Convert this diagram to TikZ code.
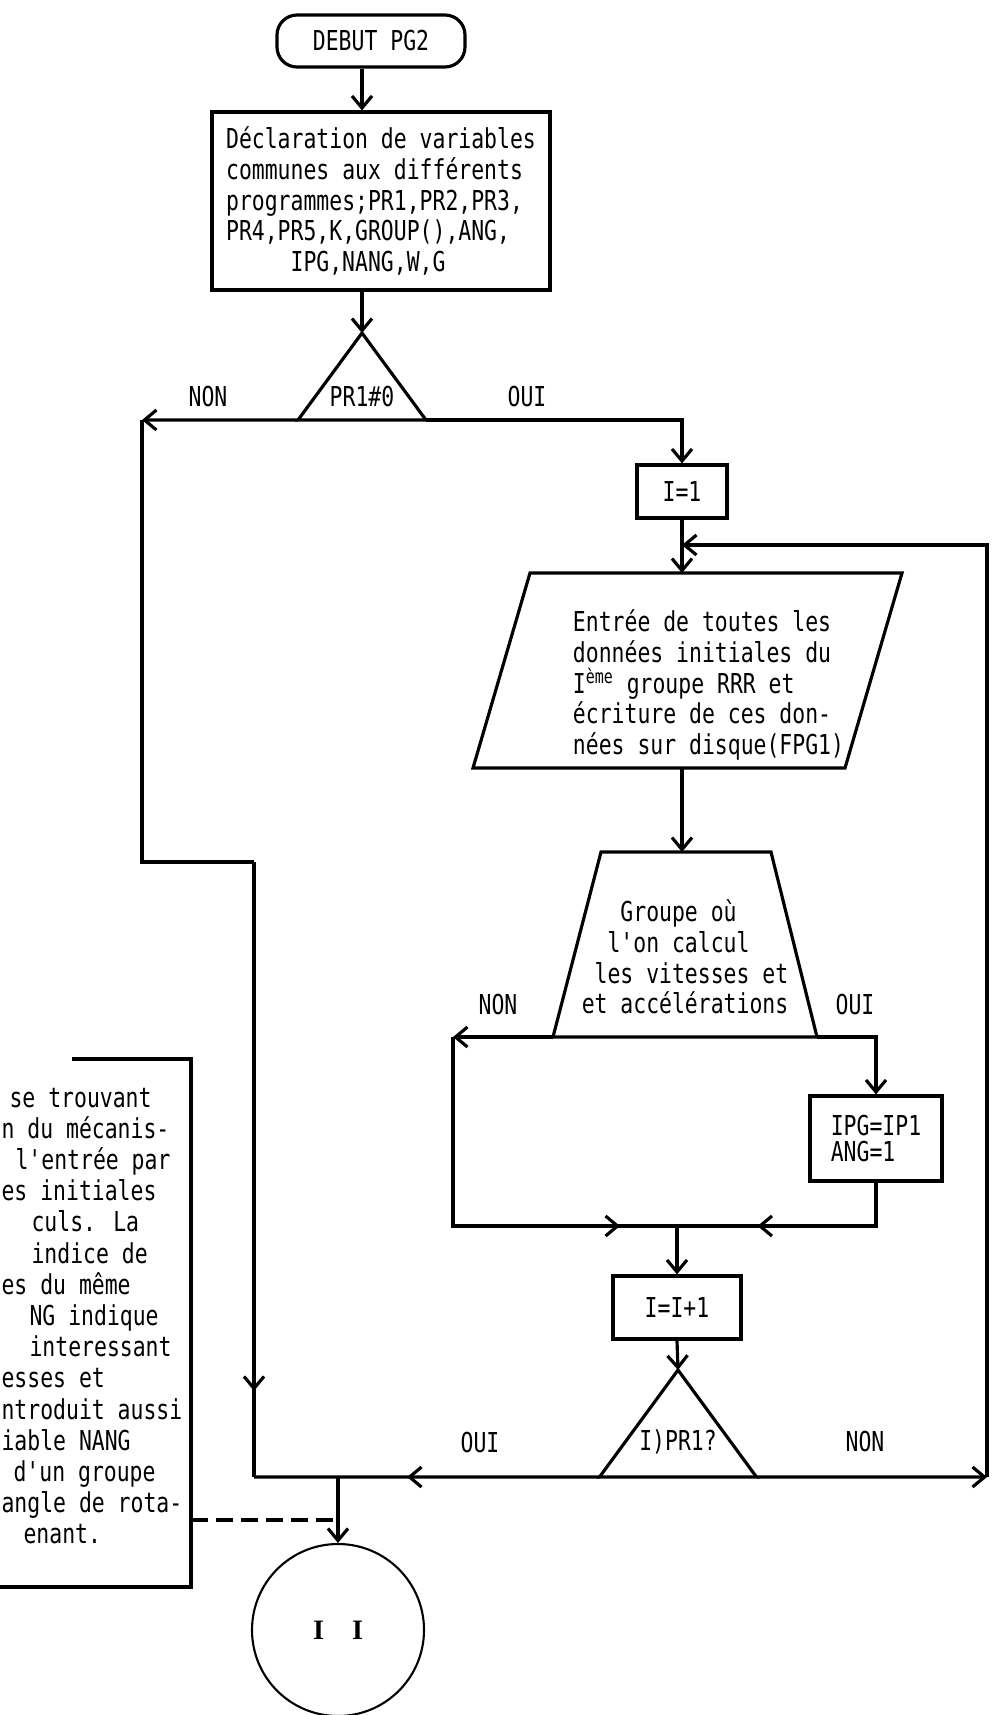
\documentclass[tikz,border=0pt]{standalone}
\usepackage{fontspec}
\usetikzlibrary{arrows.meta, decorations.markings}
\newfontfamily\dotfont[FakeStretch=0.782]{DejaVu Sans Mono}
\newfontfamily\romfont{Liberation Serif}
\newlength{\chw}
\setlength{\chw}{2.58mm}
\newcommand{\sk}[1]{\hspace*{#1\chw}}
\tikzset{
  every node/.style={font=\dotfont\fontsize{15.6pt}{17.4pt}\selectfont},
  arrow/.style={->},
  midtip/.style={postaction={decorate},
    decoration={markings, mark=at position #1 with {\arrow{>}}}},
  procbox/.style={rectangle, draw, inner sep=0pt, align=left},
  term/.style={rectangle, draw, rounded corners=4mm, inner sep=0pt},
  txtblk/.style={align=left, inner sep=0pt},
  lbl/.style={inner sep=0pt},
  notetxt/.style={inner sep=0pt, anchor=base west},
  link/.style={dash pattern=on 3.4mm off 1.6mm},
}

\begin{document}
\begin{tikzpicture}[x=0.2mm, y=-0.2mm, line width=1.8pt,
  >={Straight Barb[length=2.4mm, width=4mm]}]
  \useasboundingbox (0,0) rectangle (995,1715);

  % ---- start and declarations ----
  \node[term, minimum width=37.6mm, minimum height=10.4mm] (start) at (371,41) {DEBUT PG2};
  \node[procbox, minimum width=67.6mm, minimum height=35.6mm] (decl) at (381,201)
    {Déclaration de variables\\
     communes aux différents\\
     programmes;PR1,PR2,PR3,\\
     PR4,PR5,K,GROUP(),ANG,\\
     \sk{5}IPG,NANG,W,G};

  % ---- first test ----
  \node[lbl] (pr) at (362,397) {PR1\#0};
  \draw ([yshift=12.8mm]pr.center) coordinate (prtop)
     -- ([xshift=12.8mm, yshift=-4.6mm]pr.center) coordinate (prR)
     -- ([xshift=-12.8mm, yshift=-4.6mm]pr.center) coordinate (prL) -- cycle;
  \node[lbl] (non1) at (208,397) {NON};
  \node[lbl] (oui1) at (527,397) {OUI};

  % ---- loop over the groups ----
  \node[procbox, minimum width=18mm, minimum height=10.6mm] (i1) at (682,491.5) {I=1};
  \node[txtblk] (iotxt) at (708.5,685)
    {Entrée de toutes les\\
     données initiales du\\
     I\textsuperscript{ème} groupe RRR et\\
     écriture de ces don-\\
     nées sur disque(FPG1)};
  \draw (530,573) coordinate (ioTL) -- (902,573) coordinate (ioTR)
     -- (845,768) coordinate (ioBR) -- (473,768) coordinate (ioBL) -- cycle;
  \node[txtblk] (grptxt) at (685,957)
    {\sk{3}Groupe où\\
     \sk{2}l'on calcul\\
     \sk{1}les vitesses et\\
     et accélérations};
  \draw (601,852) coordinate (grTL) -- (771,852) coordinate (grTR)
     -- (817,1037) coordinate (grBR) -- (553,1037) coordinate (grBL) -- cycle;
  \node[lbl] (non2) at (498,1005) {NON};
  \node[lbl] (oui2) at (855,1005) {OUI};
  \node[procbox, minimum width=26.4mm, minimum height=17mm,
        font=\dotfont\fontsize{15.6pt}{15pt}\selectfont] (ipg) at (876,1138.5)
    {IPG=IP1\\ANG=1};
  \node[procbox, minimum width=25.6mm, minimum height=12.6mm] (i2) at (677,1307.5) {I=I+1};

  % ---- end test ----
  \node[lbl] (gt) at (678,1442) {I)PR1?};
  \draw ([yshift=14.4mm]gt.center) coordinate (gttop)
     -- ([xshift=15.7mm, yshift=-7mm]gt.center) coordinate (gtR)
     -- ([xshift=-15.7mm, yshift=-7mm]gt.center) coordinate (gtL) -- cycle;
  \node[lbl] (oui3) at (480,1443) {OUI};
  \node[lbl] (non3) at (865,1442) {NON};
  \node[circle, draw, line width=1.2pt, minimum size=34.4mm, inner sep=0pt,
        font=\romfont\bfseries\fontsize{16pt}{16pt}\selectfont] (sub) at (338,1630) {I\quad I};

  % ---- comment on the left ----
  \draw (72,1059) -- (191,1059) -- (191,1587) -- (0,1587);
  \foreach \dx/\notel [count=\row from 0] in {8/se trouvant, 0/n du mécanis-,
      14/l'entrée par, 0/es initiales, 30/culs. La, 30/indice de,
      0/es du même, 28/NG indique, 28/interessant, 0/esses et,
      0/ntroduit aussi, 0/iable NANG, 12/d'un groupe, 0/angle de rota-,
      22/enant.}
    \node[notetxt] (note\row) at (\dx, 1107+31.2*\row) {\notel};

  % corners of the connectors
  \coordinate (nA) at (142,420);
  \coordinate (nB) at (254,862);
  \coordinate (nC) at (254,1477);
  \coordinate (gA) at (453,1037);
  \coordinate (jn) at (677,1226);
  \coordinate (rC) at (987,1477);
  \coordinate (back) at (682,545);
  \coordinate (noteR) at (191,1520);

  \draw[arrow] (start.south -| prtop) -- (decl.north -| prtop);
  \draw[arrow] (decl.south -| prtop) -- (prtop);
  \draw[arrow] (prR) -| (i1.north);
  \draw[arrow] (prL) -- (nA);
  \draw (nA) |- (nB);
  \draw[midtip=0.86] (nB) -- (nC);
  \draw[arrow] (i1.south) -- (i1.south |- ioTL);
  \draw[arrow] (i1.south |- ioBL) -- (i1.south |- grTL);
  \draw[arrow] (grBL) -- (gA);
  \draw[midtip=0.862] (gA) |- (jn);
  \draw[arrow] (grBR) -| (ipg.north);
  \draw[midtip=0.668] (ipg.south) |- (jn);
  \draw[arrow] (jn) -- (i2.north);
  \draw[arrow] (i2.south) -- (gttop);
  \draw[arrow] (gtR) -- (rC);
  \draw[arrow] (rC) |- (back);
  \draw[midtip=0.557] (gtL) -- (nC);
  \draw[arrow] (nC -| sub.north) -- (sub.north);
  \draw[link] (noteR) -- (noteR -| sub.north);
\end{tikzpicture}
\end{document}
